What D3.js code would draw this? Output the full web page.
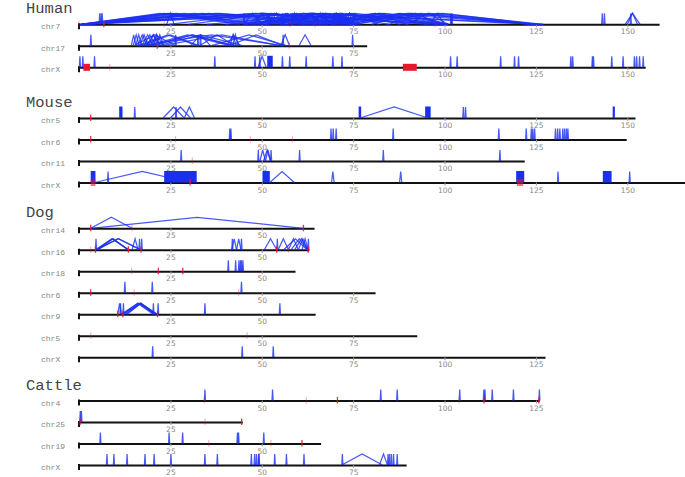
<!DOCTYPE html>
<html><head><meta charset="utf-8">
<script src="https://cdn.jsdelivr.net/npm/d3@7"></script>
<style>body{margin:0;background:#fff}svg{display:block}</style></head>
<body><svg id="c" width="685" height="477"></svg>
<script>
// ---------- DATA (Mb) ----------
const speciesNames = ["Human", "Mouse", "Dog", "Cattle"];
const humanChroms = ["chr7", "chr17", "chrX"];
const humanLengths = [158.7, 78.7, 154.9];
const mouseChroms = ["chr5", "chr6", "chr11", "chrX"];
const mouseLengths = [152.1, 149.7, 121.8, 166.6];
const dogChroms = ["chr14", "chr16", "chr18", "chr6", "chr9", "chr5", "chrX"];
const dogLengths = [64.3, 62.9, 59.1, 81.0, 64.6, 92.4, 127.5];
const cattleChroms = ["chr4", "chr25", "chr19", "chrX"];
const cattleLengths = [125.9, 44.7, 66.1, 89.5];
const tickValues = [25, 50, 75, 100, 125, 150];

// links: [start, end] pairs; single number = narrow pair at that position
const human_chr7_links = [
  [0.5,46],[0.8,48],[1.2,52],[0.6,57],[1,62],[1.4,66],[0.9,74],[1.1,76],[1.3,99],[0.7,101],[1,125],[0.4,127],
  [0.3,44],[0.6,50],[1,70],[0.8,96],
  5.5,5.9,6.2,
  [24,26],[24.5,75],[30,75],[35,100],[40,125],
  [45,50],[46,55],[47,60],[48,52],[49,64],[50,58],[51,72],[52,56],[53,61],[54,75],[55,68],[56,63],[57,74],[58,60],
  [59,70],[60,66],[61,76],[62,65],[63,72],[64,98],[65,67],[66,75],[67,100],[68,73],[69,95],[70,74],[71,77],[72,90],
  [73,75],[74,101],[75,76],[46,62],[51,66],[57,71],[63,77],[47,75],[52,76],[58,76],[64,69],[69,72],
  [45,98],[50,101],[55,125],[58,124],[62,125],[66,126],[70,127],[74,125],[48,85],[53,90],[60,88],[67,82],
  [76,100],[80,101],[85,99],[90,101],[96,100],
  45,52,55.5,61,67,73,75,101.6,101.9,
  143,143.6,[149.4,153.5],[150,152.8],150.8
];
const human_chr7_red = [[0,1],[6.8,2],[23.3,1],[57.7,1],[64.6,1],[97.4,1]];
const human_chr17_links = [
  3.1,[14.3,15.6],[14.8,16.5],[15.5,17.2],[16,18.6],[16.6,19],[17.2,20.3],[17.8,21],[18.4,22.3],[19,21.6],
  [19.6,23],[20.4,22],[21,23.2],[15,26.4],[16,32.5],[17,33],[18,41.5],[19,43],[20,42],[21.5,45],[22.5,55.5],
  [16.5,56],26.3,32.4,33.1,[30.5,36],[33,42.5],[40.5,44],[41.3,43],[42,43.6],[36,57],[41,56],
  [55.2,57.6],55.7,[60.2,63.5],74.7
];
const human_chr17_red = [[21.4,2],[57.5,1]];
const human_chrX_links = [0.1,0.9,4.1,37,48,49.3,[49,51.2],55.5,57.5,62,69.3,71.8,101.5,103.3,115.2,119,120.1,
  134.4,134.9,140.3,140.6,145.6,148.7,151.8,152.4,153.2,154.2];
const human_chrX_blocks = [[51.5,53]];
const human_chrX_redBlocks = [[1.2,3.0,2],[88.6,92.4,2]];
const human_chrX_red = [[8.4,1]];

const mouse_chr5_links = [15.1,[23,28.8],[25,30.5],26.4,[28.8,31.6],[76.9,95.5],105,105.6];
const mouse_chr5_blocks = [[11,11.9],[76.5,77.2],[94.7,96.2],[146,146.6]];
const mouse_chr5_red = [[3.2,2]];
const mouse_chr6_links = [41.1,41.4,68.8,69.4,70.2,85.8,114.7,122.2,123.6,124,124.5,130.2,130.8,131.4,132.2,132.7,133.2,133.6];
const mouse_chr6_red = [[3.2,2],[26.4,1],[46.9,1],[58.4,1]];
const mouse_chr11_links = [27.8,48.9,[49.5,51],[50.5,52.4],[51,52.4],52.4,60.2,83.1,115];
const mouse_chr11_red = [[31,1]];
const mouse_chrX_links = [7.8,[4.3,30.3],[52.2,58.9],[69.1,69.8],[87.7,88.3],130.9,150.5];
const mouse_chrX_blocks = [[3.2,4.5],[23.3,32.2],[50.2,52.2],[119.6,121.8],[143.3,145.7]];
const mouse_chrX_redBlocks = [[3.2,4.5,1],[119.8,121.5,1]];
const mouse_chrX_red = [[30.4,2]];

const dog_chr14_links = [[3.2,14.5],[3.2,61.4]];
const dog_chr14_red = [[3.2,2],[14.5,1],[61.4,2]];
const dog_chr16_links = [4.5,[4.5,13.5],[4.8,13.6],[4.5,17],[5,16.6],[5.2,13.4],[14.5,16.2],16.4,17,
  [41.8,43.1],41.8,[43.1,44.3],44.3,[50.7,54.1],54.1,[54.5,57.3],[57.3,60],[56,62.4],[58,62.5],[59,62.7],
  [60,62.5],[61,62.7],62.6];
const dog_chr16_red = [[3.2,1],[4.5,2],[13.5,2],[17,2],[54.1,2],[57.3,1],[62.7,2]];
const dog_chr18_links = [40.7,42.7,43.6,44,44.3,44.7];
const dog_chr18_red = [[14.4,1],[21.7,2],[28.4,2]];
const dog_chr6_links = [12.4,19.9,44.3];
const dog_chr6_red = [[3.2,2],[15.1,1],[43.7,1]];
const dog_chr9_links = [[10.6,11.6],11.2,12,[11.6,20.8],[12,21.5],[12.4,21],[11.8,20.3],[12.8,21.2],[13.2,20.6],
  20.2,21.5,34.3,54.8];
const dog_chr9_red = [[10.6,2],[12,2],[21.5,2]];
const dog_chr5_red = [[3.2,1],[46,1]];
const dog_chrX_links = [20,44.5,53];

const cattle_chr4_links = [34.3,52.8,82.4,86.9,104,110.6,110.9,112.9,118.7,125.8];
const cattle_chr4_red = [[34.3,1],[62.2,1],[70.7,2],[104,1],[110.8,2],[125.8,2]];
const cattle_chr25_links = [0.2,0.5];
const cattle_chr25_red = [[0.3,2],[34.5,1],[44.5,2]];
const cattle_chr19_links = [5.7,24.5,28.2,43.2,43.5,50.4];
const cattle_chr19_red = [[35.5,1],[52.5,1],[61,2]];
const cattle_chrX_links = [7.5,9.4,13,17.9,20.4,25,34.3,37.7,47,47.9,48.4,49,49.1,53.4,56.6,61.4,71.9,
  [71.9,83],[82.2,84.4],84.4,84.8,85.3,85.9,86.9];

// ---------- TABLE ----------
const chromLists = [humanChroms, mouseChroms, dogChroms, cattleChroms];
const lengthLists = [humanLengths, mouseLengths, dogLengths, cattleLengths];
const prefixes = ["human", "mouse", "dog", "cattle"];
const dataSets = {
  human_chr7_links, human_chr7_red, human_chr17_links, human_chr17_red,
  human_chrX_links, human_chrX_blocks, human_chrX_redBlocks, human_chrX_red,
  mouse_chr5_links, mouse_chr5_blocks, mouse_chr5_red, mouse_chr6_links, mouse_chr6_red,
  mouse_chr11_links, mouse_chr11_red, mouse_chrX_links, mouse_chrX_blocks, mouse_chrX_redBlocks, mouse_chrX_red,
  dog_chr14_links, dog_chr14_red, dog_chr16_links, dog_chr16_red, dog_chr18_links, dog_chr18_red,
  dog_chr6_links, dog_chr6_red, dog_chr9_links, dog_chr9_red, dog_chr5_red, dog_chrX_links,
  cattle_chr4_links, cattle_chr4_red, cattle_chr25_links, cattle_chr25_red, cattle_chr19_links, cattle_chr19_red,
  cattle_chrX_links
};

// ---------- LAYOUT ----------
const groupStartY = [24.3, 118, 228.3, 400.5];
const rowStep = 21.5;
const linkH = 11;
const BLUE = "#1a2ff0", RED = "#e8182c";

const svg = d3.select("#c");
const x = d3.scaleLinear().domain([0, 150]).range([79, 627.3]);

speciesNames.forEach((sp, gi) => {
  const y0 = groupStartY[gi];
  svg.append("text").attr("x", 26).attr("y", y0 - 11)
    .attr("font-family", "Liberation Mono, Courier New, monospace").attr("font-size", 15.5)
    .attr("fill", "#444").text(sp);

  chromLists[gi].forEach((chr, ci) => {
    const y = y0 + ci * rowStep;
    const len = lengthLists[gi][ci];
    const key = prefixes[gi] + "_" + chr;
    const links = dataSets[key + "_links"] || [];
    const blocks = dataSets[key + "_blocks"] || [];
    const red = dataSets[key + "_red"] || [];
    const redBlocks = dataSets[key + "_redBlocks"] || [];
    const g = svg.append("g");

    g.append("text").attr("x", 41).attr("y", y + 5)
      .attr("font-family", "Liberation Mono, Courier New, monospace").attr("font-size", 8)
      .attr("fill", "#888").text(chr);

    const xs = x.copy().domain([0, len]).range([x(0), x(len)]);
    const axis = d3.axisBottom(xs).tickValues(tickValues.filter(t => t <= len))
      .tickSize(3).tickSizeOuter(0).tickPadding(1.8);
    const ag = g.append("g").attr("transform", `translate(0,${y})`).call(axis);
    ag.select(".domain").attr("stroke", "#111").attr("stroke-width", 2);
    ag.selectAll(".tick line").attr("stroke", "#999");
    ag.selectAll(".tick text").attr("font-family", "DejaVu Sans, sans-serif")
      .attr("font-size", 7.5).attr("fill", "#888");
    g.append("line").attr("x1", x(0)).attr("x2", x(0)).attr("y1", y - 1).attr("y2", y + 5)
      .attr("stroke", "#111").attr("stroke-width", 2);

    const pairs = links.map(d => typeof d === "number" ? [d, d + 0.3] : d);
    g.selectAll("path.link").data(pairs).join("path").attr("class", "link")
      .attr("d", d => {
        const a = x(d[0]), b = x(d[1]);
        return `M${a},${y}L${(a + b) / 2},${y - linkH}L${b},${y}`;
      })
      .attr("fill", "none").attr("stroke", BLUE).attr("stroke-width", 1.25)
      .attr("stroke-opacity", 0.8).attr("stroke-linejoin", "miter");

    g.selectAll("rect.block").data(blocks).join("rect").attr("class", "block")
      .attr("x", d => x(d[0])).attr("width", d => Math.max(1, x(d[1]) - x(d[0])))
      .attr("y", y - linkH - 0.5).attr("height", linkH + 0.5).attr("fill", BLUE);

    g.selectAll("rect.rb").data(redBlocks).join("rect").attr("class", "rb")
      .attr("x", d => x(d[0])).attr("width", d => x(d[1]) - x(d[0]))
      .attr("y", y - 3.5).attr("height", 7).attr("fill", RED)
      .attr("opacity", d => d[2] === 2 ? 1 : 0.6);

    g.selectAll("line.red").data(red).join("line").attr("class", "red")
      .attr("x1", d => x(d[0])).attr("x2", d => x(d[0]))
      .attr("y1", y - 3.5).attr("y2", y + 3)
      .attr("stroke", RED).attr("stroke-width", 1.3)
      .attr("stroke-opacity", d => d[1] === 2 ? 0.9 : 0.3);
  });
});
</script></body></html>
